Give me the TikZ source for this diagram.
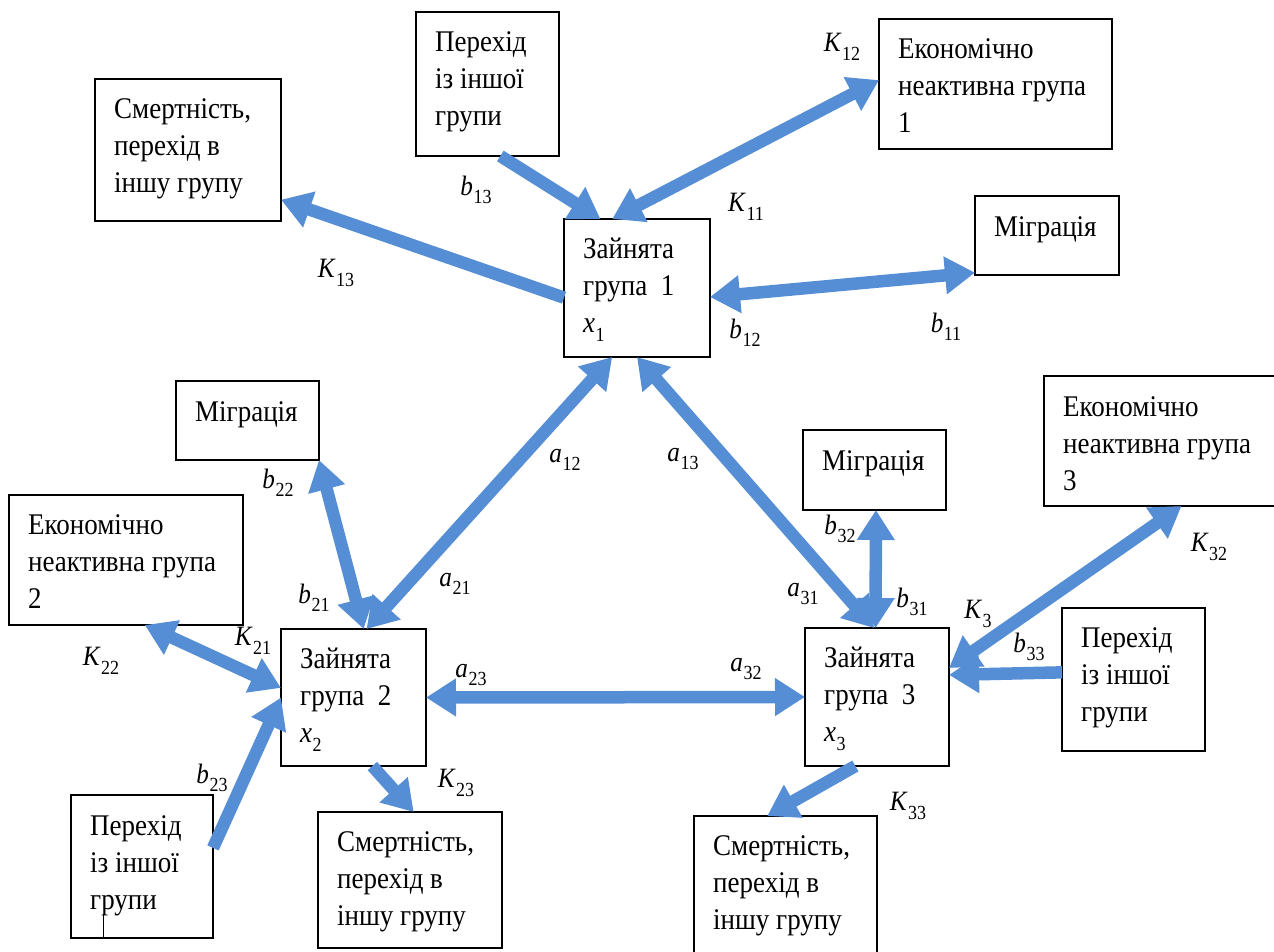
\documentclass[tikz,border=0pt]{standalone}
\usepackage{fontspec}
\setmainfont{Liberation Serif}[FakeStretch=0.9]
\usetikzlibrary{arrows.meta,calc}

\definecolor{flow}{RGB}{86,142,214}

% italic symbol with an upright index, e.g. K_{13}
\newcommand\coef[2]{\textit{#1}\kern0.5pt\raisebox{-0.3em}{\fontsize{20}{20}\selectfont #2}}

\tikzset{
  box/.style={draw, line width=1.6pt, inner sep=0pt, outer sep=0pt, anchor=north west},
  boxtext/.style={anchor=north west, inner sep=0pt, align=left,
    font=\fontsize{30}{37}\selectfont},
  flowline/.style={draw=flow, line width=12.5pt},
  flowhead/.tip={Triangle[length=30pt,width=36pt]},
  one/.style={flowline, -flowhead},
  both/.style={flowline, flowhead-flowhead},
  lbl/.style={inner sep=0pt, font=\fontsize{28}{28}\selectfont},
}

\begin{document}
\begin{tikzpicture}[x=1pt, y=-1pt]
\useasboundingbox (0,0) rectangle (1274,951);
\fill[white] (0,0) rectangle (1274,951);
\clip (0,0) rectangle (1274,951);

% ---- boxes ----
\node[box, minimum width=186pt, minimum height=142pt] (smert1) at (95,79) {};
\node[box, minimum width=143pt, minimum height=144pt] (per1) at (416,12) {};
\node[box, minimum width=146pt, minimum height=138pt] (zai1) at (564,219) {};
\node[box, minimum width=233pt, minimum height=130pt] (ek1) at (879,19) {};
\node[box, minimum width=144pt, minimum height=79pt] (mig1) at (975,196) {};
\node[box, minimum width=143pt, minimum height=79pt] (mig2) at (176,381) {};
\node[box, minimum width=234pt, minimum height=130pt] (ek2) at (9,495) {};
\node[box, minimum width=145pt, minimum height=137pt] (zai2) at (281,629) {};
\node[box, minimum width=142pt, minimum height=143pt] (per2) at (71,795) {};
\node[box, minimum width=184pt, minimum height=136pt] (smert2) at (318,812) {};
\node[box, minimum width=143pt, minimum height=80pt] (mig3) at (803,430) {};
\node[box, minimum width=144pt, minimum height=138pt] (zai3) at (805,628) {};
\node[box, minimum width=143pt, minimum height=143pt] (per3) at (1062,608) {};
\node[box, minimum width=250pt, minimum height=130pt] (ek3) at (1044,376) {};
\node[box, minimum width=183pt, minimum height=160pt] (smert3) at (694,816) {};

% ---- box texts ----
\node[boxtext] (smert1t) at ([xshift=19pt,yshift=-19pt]smert1.north west) {Смертність,\\перехід в\\іншу групу};
\node[boxtext] (per1t) at ([xshift=19pt,yshift=-19pt]per1.north west) {Перехід\\із іншої\\групи};
\node[boxtext] (zai1t) at ([xshift=19pt,yshift=-19pt]zai1.north west) {Зайнята\\група\ \ 1\\\coef{x}{1}};
\node[boxtext] (ek1t) at ([xshift=19pt,yshift=-19pt]ek1.north west) {Економічно\\неактивна група\\1};
\node[boxtext] (mig1t) at ([xshift=19pt,yshift=-20pt]mig1.north west) {Міграція};
\node[boxtext] (mig2t) at ([xshift=19pt,yshift=-20pt]mig2.north west) {Міграція};
\node[boxtext] (ek2t) at ([xshift=19pt,yshift=-19pt]ek2.north west) {Економічно\\неактивна група\\2};
\node[boxtext] (zai2t) at ([xshift=19pt,yshift=-19pt]zai2.north west) {Зайнята\\група\ \ 2\\\coef{x}{2}};
\node[boxtext] (per2t) at ([xshift=19pt,yshift=-20pt]per2.north west) {Перехід\\із іншої\\групи};
\node[boxtext] (smert2t) at ([xshift=19pt,yshift=-19pt]smert2.north west) {Смертність,\\перехід в\\іншу групу};
\node[boxtext] (mig3t) at ([xshift=19pt,yshift=-20pt]mig3.north west) {Міграція};
\node[boxtext] (zai3t) at ([xshift=19pt,yshift=-19pt]zai3.north west) {Зайнята\\група\ \ 3\\\coef{x}{3}};
\node[boxtext] (per3t) at ([xshift=19pt,yshift=-19pt]per3.north west) {Перехід\\із іншої\\групи};
\node[boxtext] (ek3t) at ([xshift=19pt,yshift=-20pt]ek3.north west) {Економічно\\неактивна група\\3};
\node[boxtext] (smert3t) at ([xshift=19pt,yshift=-19pt]smert3.north west) {Смертність,\\перехід в\\іншу групу};

% small tick inside the lower left box
\draw[line width=1.2pt] ($(per2.south west)!0.23!(per2.south east)$) -- ++(0,-23);

% ---- flows around group 1 ----
\draw[one]  ($(per1.south west)!0.59!(per1.south east)$) -- ($(zai1.north west)!0.25!(zai1.north east)$);
\draw[both] ($(zai1.north west)!0.33!(zai1.north east)$) -- ($(ek1.north west)!0.47!(ek1.south west)$);
\draw[one]  ($(zai1.north west)!0.57!(zai1.south west)$) -- ($(smert1.north east)!0.85!(smert1.south east)$);
\draw[both] ($(zai1.north east)!0.565!(zai1.south east)$) -- ($(mig1.north west)!0.97!(mig1.south west)$);

% ---- flows between groups ----
\draw[both] ($(zai1.south west)!0.33!(zai1.south east)$) -- ($(zai2.north west)!0.59!(zai2.north east)$);
\draw[both] ($(zai1.south west)!0.5!(zai1.south east)$) -- ($(zai3.north west)!0.48!(zai3.north east)$);
\draw[both] (zai2.east) -- (zai3.west);

% ---- flows around group 2 ----
\draw[both] (mig2.south east) -- ($(zai2.north west)!0.57!(zai2.north east)$);
\draw[both] ($(ek2.south west)!0.58!(ek2.south east)$) -- ($(zai2.north west)!0.43!(zai2.south west)$);
\draw[one]  ($(per2.north east)!0.37!(per2.south east)$) -- ($(zai2.north west)!0.5!(zai2.south west)$);
\draw[one]  ($(zai2.south west)!0.63!(zai2.south east)$) -- ($(smert2.north west)!0.52!(smert2.north east)$);

% ---- flows around group 3 ----
\draw[both] ($(mig3.south west)!0.51!(mig3.south east)$) -- ($(zai3.north west)!0.49!(zai3.north east)$);
\draw[both] ($(zai3.north east)!0.29!(zai3.south east)$) -- ($(ek3.south west)!0.55!(ek3.south east)$);
\draw[one]  ($(per3.north west)!0.45!(per3.south west)$) -- ($(zai3.north east)!0.34!(zai3.south east)$);
\draw[one]  ($(zai3.south west)!0.35!(zai3.south east)$) -- ($(smert3.north west)!0.40!(smert3.north east)$);

% ---- coefficients ----
\node[lbl] (lb13) at (476,190) {\coef{b}{13}};
\node[lbl] (lk13) at (336,273) {\coef{K}{13}};
\node[lbl] (lk12) at (842,47) {\coef{K}{12}};
\node[lbl] (lk11) at (746,207) {\coef{K}{11}};
\node[lbl] (lb12) at (745,333) {\coef{b}{12}};
\node[lbl] (lb11) at (946,327) {\coef{b}{11}};
\node[lbl] (la12) at (565,460) {\coef{a}{12}};
\node[lbl] (la13) at (683,459) {\coef{a}{13}};
\node[lbl] (lb22) at (278,483) {\coef{b}{22}};
\node[lbl] (lb21) at (314,598) {\coef{b}{21}};
\node[lbl] (la21) at (455,584) {\coef{a}{21}};
\node[lbl] (lk21) at (253,641) {\coef{K}{21}};
\node[lbl] (lk22) at (101,661) {\coef{K}{22}};
\node[lbl] (la23) at (471,675) {\coef{a}{23}};
\node[lbl] (lb23) at (212,778) {\coef{b}{23}};
\node[lbl] (lk23) at (456,783) {\coef{K}{23}};
\node[lbl] (lb32) at (840,529) {\coef{b}{32}};
\node[lbl] (la31) at (803,594) {\coef{a}{31}};
\node[lbl] (lb31) at (912,602) {\coef{b}{31}};
\node[lbl] (lk3) at (978,614) {\coef{K}{3}};
\node[lbl] (lb33) at (1029,647) {\coef{b}{33}};
\node[lbl] (lk32) at (1209,547) {\coef{K}{32}};
\node[lbl] (la32) at (746,669) {\coef{a}{32}};
\node[lbl] (lk33) at (908,806) {\coef{K}{33}};
\end{tikzpicture}
\end{document}
